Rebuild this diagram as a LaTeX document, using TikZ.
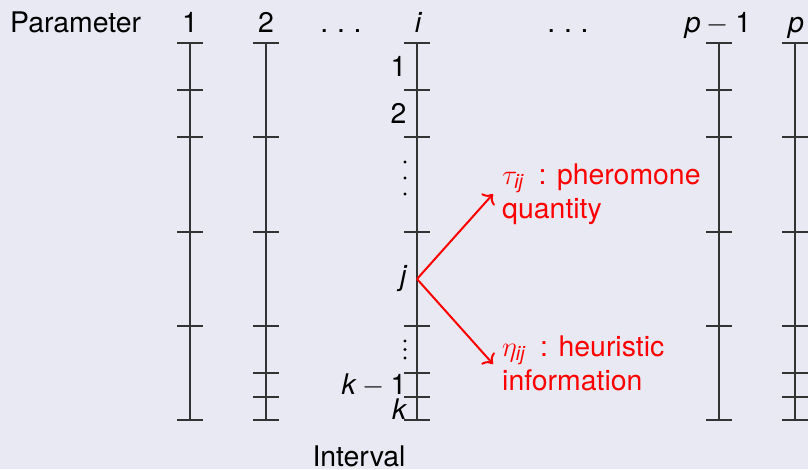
\RequirePackage{fix-cm}
\documentclass[tikz,border=0pt]{standalone}
\usepackage{amsmath}
\usepackage{fontspec}
\setmainfont{TeX Gyre Heros}
\usetikzlibrary{arrows.meta}
\definecolor{bgc}{RGB}{233,233,243}
\begin{document}
\begin{tikzpicture}[x=1pt,y=-1pt,
  txt/.style={font=\fontsize{28.4}{33.6}\selectfont, inner sep=0pt},
  collbl/.style={txt, anchor=base},
  intlbl/.style={txt, anchor=east},
  axis/.style={draw=black!80, line width=1.3pt},
  redtxt/.style={txt, text=red, align=left, anchor=base west},
  arr/.style={draw=red, line width=2pt, -{To[scale=1.4]}},
  vdot/.style={fill=black}]
\fill[bgc] (0,0) rectangle (808,469);
\useasboundingbox (0,0) rectangle (808,469);
% axes
\foreach \x/\ticks in {190/{43,90,137,232,326,420},266/{43,137,232,326,373,397,420},417/{43,90,137,232,326,373,397,420},719/{43,90,137,232,326,420},795/{43,137,232,326,373,397,420}} {
  \draw[axis] (\x,43) -- (\x,420);
  \foreach \t in \ticks {\draw[axis] (\x-13,\t) -- (\x+13,\t);}
}
% header labels
\node[txt, anchor=base west] (param) at (10,32) {Parameter};
\node[collbl] (c1) at (190,32) {1};
\node[collbl] (c2) at (266,32) {2};
\node[collbl] (d1) at (341,32) {.\hspace{0.31em}.\hspace{0.31em}.};
\node[collbl] (ci) at (418,32) {\itshape i};
\node[collbl] (d2) at (568,32) {.\hspace{0.31em}.\hspace{0.31em}.};
\node[collbl] (cp1) at (718,32) {$\text{\itshape p}-\text{1}$};
\node[collbl] (cp) at (796,32) {\itshape p};
% interval labels on column i
\node[intlbl] (i1) at (406.5,66.5) {1};
\node[intlbl] (i2) at (406.5,113.5) {2};
\fill[vdot] (405,162) circle (1.7) (405,178) circle (1.7) (405,194) circle (1.7);
\node[intlbl] (ij) at (406.5,279) {\itshape j};
\fill[vdot] (405,341) circle (1.7) (405,349.5) circle (1.7) (405,358) circle (1.7);
\node[intlbl] (ik1) at (406.5,385) {$\text{\itshape k}-\text{1}$};
\node[intlbl] (ik) at (406.5,409) {\itshape k};
\node[collbl] (interval) at (359,466.5) {Interval};
% red annotations
\coordinate (J) at (417,279);
\coordinate (Tt) at (493,194);
\coordinate (Th) at (493,364);
\draw[arr] (J) -- (Tt);
\draw[arr] (J) -- (Th);
\node[redtxt] (tau) at (502,218) {$\tau_{\text{\itshape ij}}$\hspace{0.25em} : pheromone\\quantity};
\node[redtxt] (eta) at (502,390) {$\eta_{\text{\itshape ij}}$\hspace{0.25em} : heuristic\\information};
\end{tikzpicture}
\end{document}
